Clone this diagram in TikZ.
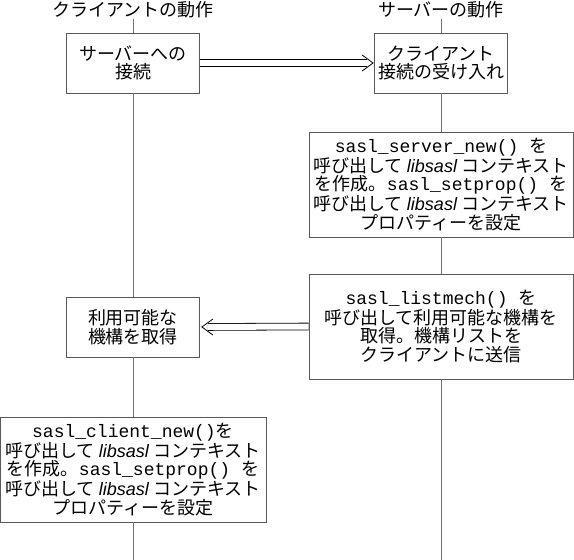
\documentclass[tikz,border=0pt]{standalone}
\usepackage{fontspec}
\setmainfont{Noto Sans CJK JP}
\setmonofont{Liberation Mono}
\newfontfamily\libfont{Liberation Sans}
\usepackage{xcolor}
\definecolor{linegray}{gray}{0.45}
\definecolor{boxgray}{gray}{0.35}
\usepackage{tikz}
\usetikzlibrary{positioning,calc}
\newcommand{\lib}{{\libfont\itshape libsasl}}
\tikzset{
	every node/.append style={font=\fontsize{18}{18.6}\selectfont},
	title/.style = {
			inner sep = 0.5pt,
		},
	action/.style = {
			draw            = boxgray,
			fill            = white,
			line width      = 0.8pt,
			align           = center,
			inner sep       = 1pt,
			minimum width   = 133pt,
			minimum height  = 60pt,
		},
	longaction/.style = {
			action,
			minimum width   = 264pt,
			minimum height  = 105pt,
		},
	lifeline/.style = {draw=linegray, line width=0.8pt},
	msg/.style = {draw=black, double, double distance=6pt, line width=0.8pt},
	msgtip/.style = {draw=black, line width=0.8pt},
}

\begin{document}
\begin{tikzpicture}[x=1pt,y=-1pt]
	\useasboundingbox (0,0) rectangle (574,560);
	\node[title] at (133,10) (tclient) {クライアントの動作};
	\node[title] at (441,10) (tserver) {サーバーの動作};
	\coordinate (endclient) at (133,560);
	\coordinate (endserver) at (441,560);

	\node[action] at (133,63) (connect) {サーバーへの\\接続};
	\node[action] at (441,63) (accept) {クライアント\\接続の受け入れ};
	\node[longaction] at (441,184.5) (srvnew) {\texttt{sasl\_server\_new() }を\\呼び出して \lib{} コンテキスト\\を作成。\texttt{sasl\_setprop() }を\\呼び出して \lib{} コンテキスト\\プロパティーを設定};
	\node[longaction] at (441,326.5) (listmech) {\texttt{sasl\_listmech() }を\\呼び出して利用可能な機構を\\取得。機構リストを\\クライアントに送信};
	\node[action] at (133,327) (getmech) {利用可能な\\機構を取得};
	\node[action, minimum width=266pt, minimum height=105pt] at (133,469.5) (clinew) {\texttt{sasl\_client\_new()}を\\呼び出して \lib{} コンテキスト\\を作成。\texttt{sasl\_setprop() }を\\呼び出して \lib{} コンテキスト\\プロパティーを設定};

	% lifelines
	\draw[lifeline] (tclient) -- (connect) (connect) -- (getmech) (getmech) -- (clinew) (clinew) -- (endclient);
	\draw[lifeline] (tserver) -- (accept) (accept) -- (srvnew) (srvnew) -- (listmech) (listmech) -- (endserver);

	% messages
	\draw[msg, shorten >=6pt] (connect.east) -- ([xshift=-1pt]accept.west);
	\draw[msgtip] ([xshift=-12pt,yshift=8pt]accept.west) -- ([xshift=-1pt]accept.west) -- ([xshift=-12pt,yshift=-8pt]accept.west);
	\draw[msg, shorten >=6pt] (listmech.west) -- ([xshift=2pt]getmech.east);
	\draw[msgtip] ([xshift=13pt,yshift=8pt]getmech.east) -- ([xshift=2pt]getmech.east) -- ([xshift=13pt,yshift=-8pt]getmech.east);
\end{tikzpicture}
\end{document}
